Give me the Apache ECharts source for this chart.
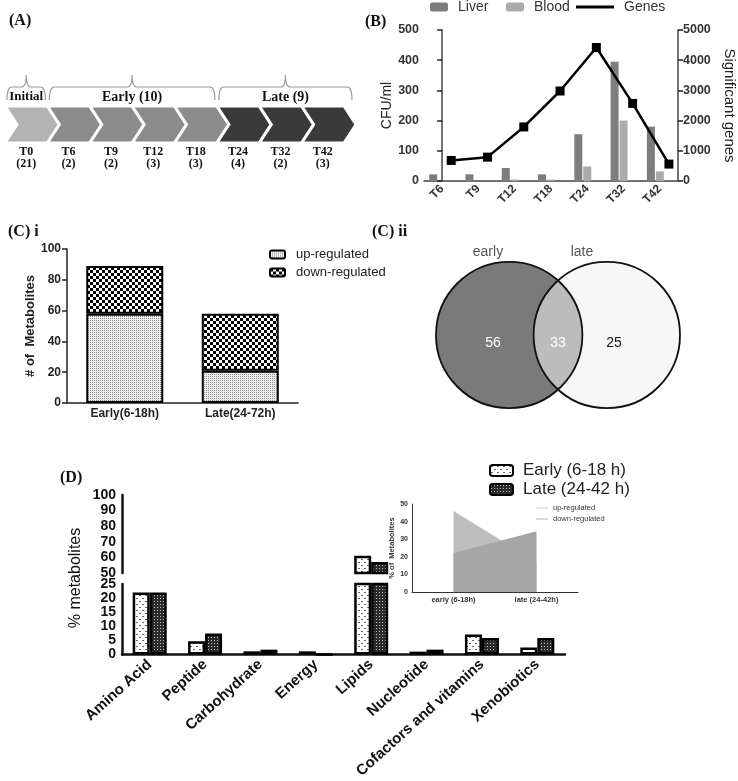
<!DOCTYPE html>
<html><head><meta charset="utf-8">
<script src="https://cdn.jsdelivr.net/npm/echarts@6/dist/echarts.min.js"></script>
<style>html,body{margin:0;padding:0;background:#fff}#c{width:738px;height:781px}</style>
</head><body><div id="c"></div>
<script>
// ---------- Panel A: timeline ----------
const aTimes = ['T0','T6','T9','T12','T18','T24','T32','T42'];
const aCounts = [21,2,2,3,3,4,2,3];
const aPhase = ['Initial','Early','Early','Early','Early','Late','Late','Late'];
const aPhaseKeys = ['Initial','Early','Late'];
const aPhaseLabels = ['Initial','Early (10)','Late (9)'];
// ---------- Panel B ----------
const bTimes = ['T6','T9','T12','T18','T24','T32','T42'];
const bLiver = [22,22,43,22,155,395,180];
const bBlood = [0,0,5,5,48,200,32];
const bGenes = [680,790,1790,2980,4420,2570,560];
// ---------- Panel C i ----------
const cGroups = ['Early(6-18h)','Late(24-72h)'];
const cUp = [58,21];
const cDown = [31,37];
// ---------- Panel C ii (Venn) ----------
const vennSets = ['early','late'];
const vennCounts = [56,33,25]; // early only, shared, late only
// ---------- Panel D ----------
const dCats = ['Amino Acid','Peptide','Carbohydrate','Energy','Lipids','Nucleotide','Cofactors and vitamins','Xenobiotics'];
const dEarly = [22,4.7,1.1,1.1,61,1.0,7.1,2.5];
const dLate = [22,7.4,1.7,0,57,1.7,5.8,5.8];
// ---------- Inset ----------
const insetCats = ['early (6-18h)','late (24-42h)'];
const insetUp = [46,17];
const insetDown = [22,34.5];

const SANS = 'Liberation Sans', SERIF = 'Liberation Serif';
const chart = echarts.init(document.getElementById('c'), null, {renderer:'canvas', width:738, height:781});

function pattern(w,h,bg,fg,cells){
  const cv=document.createElement('canvas'); cv.width=w; cv.height=h;
  const g=cv.getContext('2d'); g.fillStyle=bg; g.fillRect(0,0,w,h); g.fillStyle=fg;
  cells.forEach(c=>g.fillRect(c[0],c[1],c[2]||1,c[3]||1));
  return {image:cv, repeat:'repeat'};
}
const patUp = pattern(2,2,'#eeeeee','#8c8c8c',[[0,0]]);
const patDown = pattern(6,6,'#ffffff','#000000',[[0,0,3,3],[3,3,3,3]]);
const patEarly = pattern(6,6,'#ffffff','#6a6a6a',[[1,1,2,1],[4,4,2,1]]);
const patLate = pattern(3,3,'#2b2b2b','#bdbdbd',[[1,1]]);

const phaseColors = {Initial:'#b3b3b3', Early:'#8b8b8b', Late:'#3a3a3a'};

function renderChevron(params, api){
  const i = api.value(0);
  const bw = api.size([1,0])[0];
  const top = api.coord([i,1]), bot = api.coord([i,0]);
  const x0 = bot[0]-bw/2, x1 = bot[0]+bw/2, d = 12, ym = (top[1]+bot[1])/2;
  return {type:'polygon', shape:{points:[[x0,top[1]],[x1,top[1]],[x1+d,ym],[x1,bot[1]],[x0,bot[1]],[x0+d,ym]]},
    style:{fill:phaseColors[aPhase[i]], stroke:'#fff', lineWidth:3}};
}
function quad(p0,p1,p2,n){ const out=[]; for(let k=0;k<=n;k++){const t=k/n; out.push([(1-t)*(1-t)*p0[0]+2*t*(1-t)*p1[0]+t*t*p2[0],(1-t)*(1-t)*p0[1]+2*t*(1-t)*p1[1]+t*t*p2[1]]);} return out; }
const braceData = aPhaseKeys.map(k=>[aPhase.indexOf(k), aPhase.lastIndexOf(k)]);
function renderBrace(params, api){
  const s = api.value(0), e = api.value(1), k = params.dataIndex;
  const bw = api.size([1,0])[0];
  const top = api.coord([s,1])[1];
  let xa = api.coord([s,0])[0]-bw/2+2, xb = api.coord([e,0])[0]+bw/2-2;
  if (k === aPhaseKeys.length-1) xb += 10;
  const xc = (xa+xb)/2, yb = top-6, yh = top-19, yp = top-31;
  let pts = [].concat(quad([xa,yb],[xa,yh],[xa+5,yh],8), quad([xc-5,yh],[xc,yh],[xc,yp],8), quad([xc,yp],[xc,yh],[xc+5,yh],8), quad([xb-5,yh],[xb,yh],[xb,yb],8));
  return {type:'group', children:[
    {type:'polyline', shape:{points:pts}, style:{stroke:'#9a9a9a', lineWidth:1.2, fill:null}},
    {type:'text', x:xc, y:top-9, style:{text:aPhaseLabels[k], fontFamily:SERIF, fontWeight:'bold', fontSize:k===0?13:14, fill:'#111', align:'center', verticalAlign:'middle'}}
  ]};
}
function renderVenn(params, api){
  const cL = api.coord([0.3,0.5]), cR = api.coord([0.7,0.5]);
  const r = api.size([0.3,0])[0];
  const cy = cL[1], half = (cR[0]-cL[0])/2, mx = (cL[0]+cR[0])/2;
  const h = Math.sqrt(r*r-half*half), th = Math.atan2(h, half);
  const pts=[];
  for(let k=0;k<=40;k++){const a=-th+2*th*k/40; pts.push([cL[0]+r*Math.cos(a), cy+r*Math.sin(a)]);}
  for(let k=0;k<=40;k++){const a=Math.PI-th+2*th*k/40; pts.push([cR[0]+r*Math.cos(a), cy+r*Math.sin(a)]);}
  const numStyle = (t,c)=>({text:String(t), fontFamily:SANS, fontSize:14, fill:c, align:'center', verticalAlign:'middle'});
  return {type:'group', children:[
    {type:'circle', shape:{cx:cR[0], cy, r}, style:{fill:'#f7f7f7'}},
    {type:'circle', shape:{cx:cL[0], cy, r}, style:{fill:'#7a7a7a'}},
    {type:'polygon', shape:{points:pts}, style:{fill:'#bcbcbc'}},
    {type:'circle', shape:{cx:cL[0], cy, r}, style:{fill:null, stroke:'#111', lineWidth:1.8}},
    {type:'circle', shape:{cx:cR[0], cy, r}, style:{fill:null, stroke:'#111', lineWidth:1.8}},
    {type:'text', x:cL[0]-0.22*r, y:cy+8, style:numStyle(vennCounts[0],'#fff')},
    {type:'text', x:mx, y:cy+8, style:numStyle(vennCounts[1],'#fff')},
    {type:'text', x:cR[0]+0.1*r, y:cy+8, style:numStyle(vennCounts[2],'#111')},
    {type:'text', x:cL[0]-0.29*r, y:cy-r-10, style:{text:vennSets[0], fontFamily:SANS, fontSize:14, fill:'#555', align:'center', verticalAlign:'middle'}},
    {type:'text', x:cR[0]-0.34*r, y:cy-r-10, style:{text:vennSets[1], fontFamily:SANS, fontSize:14, fill:'#555', align:'center', verticalAlign:'middle'}}
  ]};
}

const hidden = {show:false};
const bold = (size, color)=>({fontFamily:SANS, fontWeight:'bold', fontSize:size, color:color||'#222', showMinLabel:true, showMaxLabel:true, hideOverlap:false, formatter:v=>String(v)});
function yVal(extra){
  return Object.assign({type:'value', splitLine:{show:false},
    axisLine:{show:true, lineStyle:{color:'#222', width:1.5}},
    axisTick:{show:true, length:5, lineStyle:{color:'#222', width:1.5}},
    axisLabel:Object.assign({margin:6}, bold(12))}, extra);
}
const catLabel = (o)=>{ const b = bold.apply(null, o.args); delete b.formatter; delete o.args; return Object.assign(b, o); };

const option = {
  animation:false,
  backgroundColor:'#fff',
  textStyle:{fontFamily:SANS},
  grid:[
    {left:5, top:106, width:339, height:37},
    {left:424, top:30, width:256, height:151},
    {left:67, top:249, width:231, height:154},
    {left:436, top:261, width:244, height:148},
    {left:122, top:495, width:443, height:78},
    {left:122, top:584, width:443, height:78},
    {left:412, top:504, width:166, height:88}
  ],
  xAxis:[
    {gridIndex:0, type:'category', data:aTimes, axisLine:hidden, axisTick:hidden,
      axisLabel:{interval:0, margin:3, formatter:(v,i)=>'{t|'+v+'}\n{c|('+aCounts[i]+')}',
        rich:{t:{fontFamily:SERIF, fontWeight:'bold', fontSize:12, lineHeight:12, color:'#111'}, c:{fontFamily:SERIF, fontWeight:'bold', fontSize:12, lineHeight:12, color:'#111'}}}},
    {gridIndex:1, type:'category', data:bTimes,
      axisLine:{lineStyle:{color:'#444', width:1.5}}, axisTick:{alignWithLabel:true, length:5, lineStyle:{color:'#444', width:1.5}},
      axisLabel:catLabel({interval:0, rotate:45, margin:6, args:[12,'#333']})},
    {gridIndex:1, type:'value', min:-0.5, max:6.5, show:false},
    {gridIndex:2, type:'category', data:cGroups,
      axisLine:{lineStyle:{color:'#222', width:1.5}}, axisTick:hidden,
      axisLabel:catLabel({interval:0, margin:5, args:[12]})},
    {gridIndex:3, type:'value', min:0, max:1, show:false},
    {gridIndex:4, type:'category', data:dCats, show:false},
    {gridIndex:5, type:'category', data:dCats,
      axisLine:{lineStyle:{color:'#111', width:2.5}}, axisTick:{alignWithLabel:true, length:6, lineStyle:{color:'#111', width:2.5}},
      axisLabel:catLabel({interval:0, rotate:42, margin:8, args:[15,'#111']})},
    {gridIndex:6, type:'category', data:insetCats,
      axisLine:{lineStyle:{color:'#333', width:1}}, axisTick:{alignWithLabel:true, length:2, lineStyle:{color:'#333'}},
      axisLabel:catLabel({interval:0, margin:4, args:[7.5,'#333']})}
  ],
  yAxis:[
    {gridIndex:0, type:'value', min:0, max:1, show:false},
    yVal({gridIndex:1, min:0, max:500, interval:100, name:'CFU/ml', nameLocation:'middle', nameGap:29,
      nameTextStyle:{fontFamily:SANS, fontSize:14, color:'#222'},
      axisLine:{show:true, lineStyle:{color:'#444', width:1.5}}, axisLabel:Object.assign({margin:5}, bold(12.5,'#333'))}),
    yVal({gridIndex:1, position:'right', min:0, max:5000, interval:1000, name:'Significant genes', nameLocation:'middle', nameRotate:-90, nameGap:44,
      nameTextStyle:{fontFamily:SANS, fontSize:15, color:'#222'},
      axisLine:{show:true, lineStyle:{color:'#444', width:1.5}}, axisLabel:Object.assign({margin:5}, bold(12.5,'#333'))}),
    yVal({gridIndex:2, min:0, max:100, interval:20, name:'# of  Metabolites', nameLocation:'middle', nameGap:28,
      nameTextStyle:{fontFamily:SANS, fontSize:13, fontWeight:'bold', color:'#222'}}),
    {gridIndex:3, type:'value', min:0, max:1, show:false},
    yVal({gridIndex:4, min:50, max:100, interval:10,
      axisLine:{show:true, lineStyle:{color:'#111', width:2.5}}, axisTick:{length:5, lineStyle:{color:'#111', width:2.5}},
      axisLabel:Object.assign({margin:6}, bold(14,'#111'))}),
    yVal({gridIndex:5, min:0, max:25, interval:5,
      axisLine:{show:true, lineStyle:{color:'#111', width:2.5}}, axisTick:{length:5, lineStyle:{color:'#111', width:2.5}},
      axisLabel:Object.assign({margin:6}, bold(14,'#111'))}),
    yVal({gridIndex:6, min:0, max:50, interval:10, name:'% of  Metabolites', nameLocation:'middle', nameGap:13,
      nameTextStyle:{fontFamily:SANS, fontSize:7.5, fontWeight:'bold', color:'#333'},
      axisLine:{show:true, lineStyle:{color:'#333', width:1}}, axisTick:{length:3, lineStyle:{color:'#333', width:1}},
      axisLabel:Object.assign({margin:4}, bold(7,'#333'))})
  ],
  legend:[
    {left:430, top:0, padding:0, data:['Liver'], itemWidth:18, itemHeight:9, textStyle:{fontFamily:SANS, fontSize:14, color:'#333', padding:[0,0,0,5]}},
    {left:506, top:0, padding:0, data:['Blood'], itemWidth:18, itemHeight:9, textStyle:{fontFamily:SANS, fontSize:14, color:'#333', padding:[0,0,0,5]}},
    {left:576, top:0, padding:0, data:['Genes'], icon:'rect', itemWidth:38, itemHeight:3, textStyle:{fontFamily:SANS, fontSize:14, color:'#333', padding:[0,0,0,5]}},
    {left:269, top:248, padding:0, orient:'vertical', data:['up-regulated','down-regulated'], itemWidth:15, itemHeight:8, itemGap:5, textStyle:{fontFamily:SANS, fontSize:13, color:'#222', padding:[0,0,0,6]}},
    {left:489, top:462, padding:0, orient:'vertical', data:['Early (6-18 h)','Late (24-42 h)'], itemWidth:23, itemHeight:11, itemGap:2, textStyle:{fontFamily:SANS, fontSize:17, color:'#222', padding:[0,0,0,5]}},
    {left:536, top:504, padding:0, orient:'vertical', data:['inset-up','inset-down'], icon:'rect', itemWidth:12, itemHeight:1, itemGap:3,
      formatter:n=>n==='inset-up'?'up-regulated':'down-regulated', textStyle:{fontFamily:SANS, fontSize:7.5, color:'#333'}}
  ],
  series:[
    {type:'custom', name:'timeline', xAxisIndex:0, yAxisIndex:0, renderItem:renderChevron, data:aTimes.map((t,i)=>[i,1]), silent:true},
    {type:'custom', name:'phases', xAxisIndex:0, yAxisIndex:0, renderItem:renderBrace, data:braceData, silent:true},
    {type:'bar', name:'Liver', xAxisIndex:1, yAxisIndex:1, data:bLiver, barWidth:8, barGap:'12%', itemStyle:{color:'#7d7d7d'}},
    {type:'bar', name:'Blood', xAxisIndex:1, yAxisIndex:1, data:bBlood, barWidth:8, barGap:'12%', itemStyle:{color:'#ababab'}},
    {type:'bar', name:'pad', xAxisIndex:1, yAxisIndex:1, data:bTimes.map(()=>null), barWidth:8, barGap:'12%'},
    {type:'line', name:'Genes', xAxisIndex:2, yAxisIndex:2, data:bGenes.map((v,i)=>[i+0.25,v]), symbol:'rect', symbolSize:9,
      itemStyle:{color:'#000'}, lineStyle:{color:'#000', width:2.5}, clip:false, z:5},
    {type:'bar', name:'up-regulated', xAxisIndex:3, yAxisIndex:3, stack:'c', data:cUp, barWidth:77, itemStyle:{color:patUp, borderColor:'#000', borderWidth:2}},
    {type:'bar', name:'down-regulated', xAxisIndex:3, yAxisIndex:3, stack:'c', data:cDown, barWidth:77, itemStyle:{color:patDown, borderColor:'#000', borderWidth:2}},
    {type:'custom', name:'venn', xAxisIndex:4, yAxisIndex:4, renderItem:renderVenn, data:[[0.5,0.5]], silent:true},
    {type:'bar', name:'Early (6-18 h)', xAxisIndex:6, yAxisIndex:6, data:dEarly, barWidth:17, barGap:'0%', clip:true, itemStyle:{color:patEarly, borderColor:'#000', borderWidth:2.5}},
    {type:'bar', name:'Late (24-42 h)', xAxisIndex:6, yAxisIndex:6, data:dLate, barWidth:17, barGap:'0%', clip:true, itemStyle:{color:patLate, borderColor:'#000', borderWidth:2.5}},
    {type:'bar', name:'Early (6-18 h)', xAxisIndex:5, yAxisIndex:5, data:dEarly, barWidth:17, barGap:'0%', clip:true, itemStyle:{color:patEarly, borderColor:'#000', borderWidth:2.5}},
    {type:'bar', name:'Late (24-42 h)', xAxisIndex:5, yAxisIndex:5, data:dLate, barWidth:17, barGap:'0%', clip:true, itemStyle:{color:patLate, borderColor:'#000', borderWidth:2.5}},
    {type:'line', name:'inset-up', xAxisIndex:7, yAxisIndex:7, data:insetUp, symbol:'none', color:'#c8c8c8',
      lineStyle:{width:0}, areaStyle:{color:'#bdbdbd', opacity:1}},
    {type:'line', name:'inset-down', xAxisIndex:7, yAxisIndex:7, data:insetDown, symbol:'none', color:'#b2b2b2',
      lineStyle:{width:0}, areaStyle:{color:'#a6a6a6', opacity:1}, z:3}
  ],
  graphic:[
    {type:'text', left:9, top:13, style:{text:'(A)', font:'bold 16px "Liberation Serif"', fill:'#111'}},
    {type:'text', left:365, top:14, style:{text:'(B)', font:'bold 16px "Liberation Serif"', fill:'#111'}},
    {type:'text', left:8, top:224, style:{text:'(C) i', font:'bold 16px "Liberation Serif"', fill:'#111'}},
    {type:'text', left:372, top:224, style:{text:'(C) ii', font:'bold 16px "Liberation Serif"', fill:'#111'}},
    {type:'text', left:60, top:470, style:{text:'(D)', font:'bold 16px "Liberation Serif"', fill:'#111'}},
    {type:'text', x:76, y:578, rotation:Math.PI/2, style:{text:'% metabolites', font:'16px "Liberation Sans"', fill:'#111', align:'center', verticalAlign:'middle'}}
  ]
};
chart.setOption(option);
</script></body></html>
